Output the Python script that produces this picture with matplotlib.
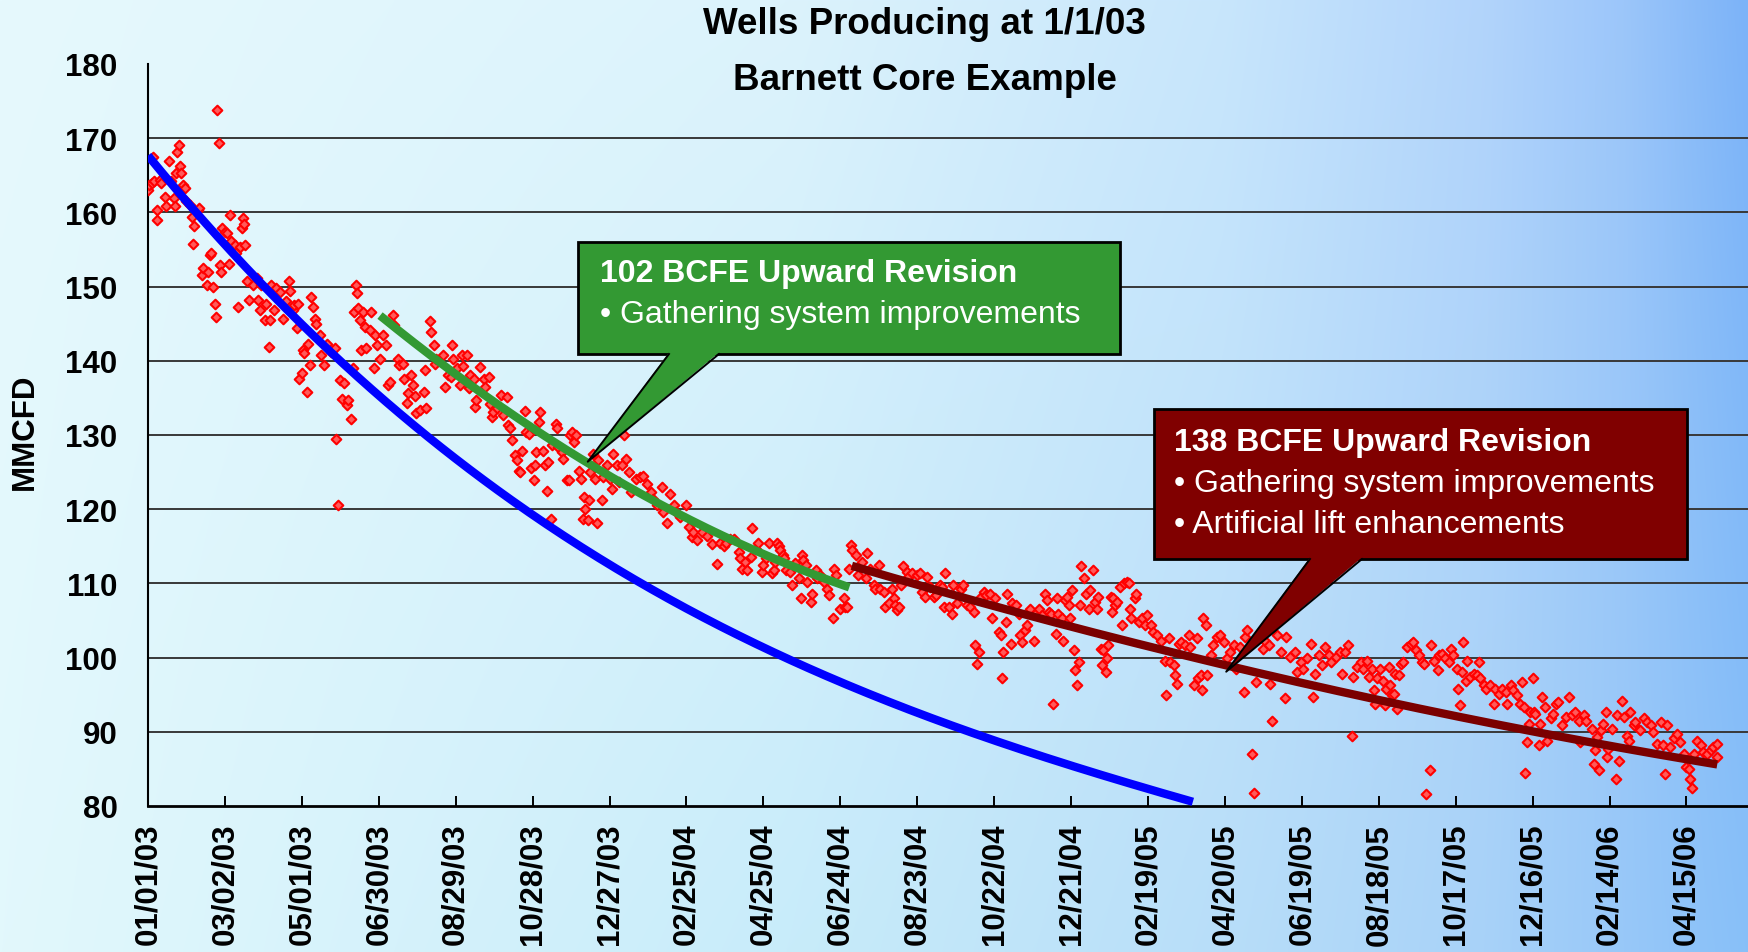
import matplotlib
matplotlib.use("Agg")
import matplotlib.pyplot as plt
import numpy as np
from matplotlib.patches import Polygon, Rectangle
from matplotlib.colors import to_rgb

plt.rcParams['font.family'] = ['Liberation Sans', 'DejaVu Sans']

# ---------------- data (day 0 = 01/01/03, MMCFD) ----------------
obs_2003a = [(0,163.0),(1,163.7),(3,163.9),(4,167.4),(5,164.2),(7,160.3),(7,159.0),(9,164.4),(10,163.9),
    (13,162.1),(14,160.8),(16,166.9),(18,164.2),(20,161.9),(21,160.8),(22,165.3),(23,168.2),(24,169.1),
    (25,166.2),(26,165.3),(27,163.7),(29,163.3),(30,161.5),(33,161.0),(34,159.4),(35,155.8),(36,158.1),
    (39,160.3),(40,160.6),(42,151.6),(43,152.5),(46,150.2),(47,152.0),(48,154.3),(49,154.5),(51,150.0),
    (52,147.7),(53,145.9),(54,173.8),(55,169.3),(56,152.9),(57,152.0),(58,157.9),(60,157.4),(62,157.2),
    (63,153.1),(64,159.6),(65,156.1),(68,155.6),(69,154.5),(70,147.3),(72,155.4),(73,157.9),(74,159.2),
    (75,158.5),(76,155.6),(77,150.7),(79,148.2),(82,150.2),(85,151.1),(86,148.2),(87,146.8),(88,150.2),
    (91,145.5),(92,147.7),(94,141.9),(95,145.5),(96,150.2),(98,146.8),(100,149.8),(103,149.3),(105,145.7),
    (108,148.0),(110,150.8),(111,149.4),(113,146.8),(114,147.5),(116,144.4),(117,147.7),(118,137.6),
    (120,138.3),(121,141.4),(122,141.0),(124,135.8),(125,142.3),(126,139.4),(127,148.6),(129,147.3),
    (130,145.7),(131,145.0),(134,143.5),(135,140.8),(137,139.4),(140,142.3),(143,141.2),(146,141.7),
    (147,129.4),(148,120.6),(150,137.4),(151,134.9),(153,137.0),(155,134.0),(156,134.7),(158,132.2),
    (160,139.0),(161,146.6),(162,150.2),(163,149.1),(164,147.1),(165,145.5),(166,141.4),(168,146.6),
    (169,144.6),(170,141.7),(173,144.1),(174,146.6),(176,139.0),(177,143.5),(179,142.1),(181,140.3),
    (183,143.5),(186,142.1),(187,136.7),(189,137.2),(191,146.2),(192,144.8),(195,140.3),(196,139.4),
    (199,139.6),(200,137.6),(202,134.3),(203,135.6),(205,138.1),(207,136.7),(208,135.2),(209,132.9),
    (212,133.4),(215,135.8),(216,138.8),(217,133.6)]

obs_2003b = [(220,145.3),(221,143.9),(223,142.1),(224,139.6),(225,140.3),(230,140.8),(232,136.5),(234,138.1),
    (236,137.8),(237,142.1),(238,140.3),(241,139.0),(243,136.7),(245,140.8),(246,139.3),(249,140.8),
    (250,136.3),(251,138.1),(254,137.6),(255,133.8),(256,134.7),(259,139.2),(262,137.6),(263,136.5),
    (266,137.8),(267,134.2),(268,132.4),(269,133.1),(272,133.6),(275,135.4),(277,132.7),(280,135.1),
    (281,131.3),(282,130.9),(284,129.3),(286,127.3),(288,126.6),(289,125.2),(290,125.0),(292,127.9),
    (294,133.3),(295,130.4),(297,130.2),(299,125.5),(301,123.9),(302,125.9),(303,127.7),(305,131.8),
    (306,133.1),(308,127.9),(310,125.9),(311,122.5),(312,126.4),(314,118.7),(315,128.6),(318,131.5),
    (319,130.9),(320,128.4),(323,127.7),(324,126.8),(327,123.9),(328,123.9),(329,130.0),(331,130.4),
    (332,129.1),(334,130.0),(336,125.2),(338,124.1),(339,118.7),(340,121.6),(341,120.0),(343,118.5),
    (344,121.2),(345,125.0),(347,127.5),(349,124.1),(350,118.2),(351,126.6),(354,121.2),(355,124.3),
    (358,125.9),(360,124.1),(362,122.7),(363,127.5),(366,125.9),(367,123.6),(370,125.9),(371,130.0),
    (373,126.8),(375,125.0),(377,122.3),(381,124.1),(384,124.3),(386,124.5),(389,123.4),(392,122.3),
    (394,121.4),(397,120.5),(401,123.0),(402,119.6),(405,118.2),(407,122.1),(410,120.5),(412,119.6),
    (415,118.9),(420,120.5),(422,117.6),(424,116.2),(425,116.9),(428,115.8),(432,116.9),(436,116.4),
    (440,115.3),(444,112.6),(446,115.5),(449,115.1),(451,115.5),(454,116.0),(457,116.0),(461,114.2)]

obs_2004 = [(462,113.4),(463,112.0),(466,112.9),(467,111.8),(470,113.6),(471,117.4),(474,114.7),(476,115.4),
    (479,111.6),(480,112.5),(482,113.4),(484,115.4),(487,111.4),(488,111.8),(489,112.9),(491,115.4),
    (492,115.0),(493,114.5),(495,113.8),(496,113.4),(498,111.8),(501,111.6),(502,109.8),(505,112.7),
    (508,110.7),(509,108.0),(510,113.8),(511,113.2),(513,112.5),(514,110.2),(517,107.5),(518,108.6),
    (521,111.8),(522,110.7),(524,111.1),(527,110.2),(530,109.3),(531,108.4),(534,105.3),(535,112.0),
    (537,111.1),(540,106.6),(543,108.0),(544,106.8),(545,106.8),(547,112.0),(548,115.2),(549,114.5),
    (552,113.8),(554,111.1),(557,112.9),(560,110.7),(561,114.1),(563,112.0),(566,109.8),(567,109.3),
    (570,112.5),(571,109.3),(574,108.9),(575,106.8),(578,107.3),(580,109.3),(582,108.0),(583,107.1),
    (584,106.4),(586,106.8),(587,109.8),(589,112.3),(592,111.6),(593,110.9),(596,111.4),(600,111.1),
    (602,111.4),(604,108.9),(606,108.2),(608,110.9),(610,109.5),(613,108.2),(615,108.4),(618,109.8),
    (619,109.5),(621,106.8),(622,111.4),(625,106.8),(627,105.9),(628,109.8),(631,107.3),(634,109.3),
    (636,109.8),(639,107.1),(641,106.8),(644,106.2),(645,101.7),(647,99.2),(648,100.8),(649,108.0),
    (652,108.9),(654,108.4),(657,108.6),(658,105.3),(661,108.0),(664,103.5),(665,103.0),(666,97.2),
    (667,100.8),(669,104.8),(670,108.6),(673,101.9),(674,107.3),(677,107.1),(679,105.9),(680,103.0),
    (682,102.1),(684,103.7),(686,104.4),(688,106.6),(691,102.3),(692,105.9),(695,106.6),(697,105.7),
    (700,108.6),(701,107.7),(703,106.2)]

obs_2005a = [(704,105.9),(706,93.8),(708,103.2),(709,108.0),(710,105.9),(713,105.3),(714,102.3),(715,107.7),
    (717,108.2),(718,107.1),(719,105.3),(721,109.1),(722,101.0),(723,98.3),(725,96.3),(726,99.4),
    (727,107.1),(728,112.3),(730,110.7),(732,108.6),(734,106.6),(735,109.1),(737,111.8),(739,107.5),
    (740,106.6),(741,108.2),(743,101.2),(744,99.0),(745,101.0),(747,98.1),(748,99.9),(749,101.7),
    (751,108.2),(752,106.2),(753,108.0),(754,107.1),(756,107.5),(758,109.5),(760,104.4),(761,110.0),
    (764,110.2),(765,110.0),(766,106.6),(767,105.3),(770,108.0),(771,108.6),(773,104.8),(775,105.3),
    (778,104.4),(779,105.7),(782,104.4),(784,103.5),(787,103.0),(790,102.3),(793,99.6),(794,94.9),
    (796,102.6),(797,99.4),(800,99.0),(801,97.6),(803,96.5),(804,101.9),(806,102.1),(809,101.7),
    (812,103.0),(813,101.4),(816,96.3),(818,102.6),(819,97.2),(821,97.6),(822,95.6),(823,105.3),
    (825,104.4),(826,97.6),(829,100.3),(831,101.7),(834,102.8),(836,103.0),(839,102.1),(842,99.9),
    (844,100.8),(847,101.7),(849,98.5),(852,101.4),(855,95.4),(856,102.8),(857,103.7),(861,87.0),
    (863,81.8),(864,96.7),(870,101.2),(871,102.3),(874,101.7),(875,96.5),(877,91.5),(881,103.0),
    (884,100.8),(887,94.5),(888,102.8),(891,100.1),(895,100.8),(896,98.1),(899,99.4),(901,98.5),
    (904,99.9),(907,101.9),(909,94.7),(910,97.8),(913,100.3),(916,99.0),(918,101.4),(921,100.3),
    (923,99.4),(927,100.1),(930,100.8),(931,97.8),(934,100.8),(936,101.7),(939,89.5),(940,97.4),
    (943,98.7)]

obs_2005b = [(946,99.4),(948,98.5),(951,99.6),(952,97.4),(955,98.5),(956,95.6),(957,93.8),(959,97.2),
    (961,98.5),(963,96.9),(965,93.6),(966,95.8),(968,98.7),(969,96.3),(970,94.9),(972,95.1),(973,97.8),
    (974,93.1),(976,97.6),(977,99.2),(979,99.4),(982,101.4),(985,101.9),(987,102.1),(989,101.0),
    (991,100.3),(994,99.4),(995,99.2),(997,81.6),(1000,84.9),(1001,101.7),(1003,99.6),(1006,98.3),
    (1007,100.3),(1009,100.5),(1012,99.9),(1015,99.4),(1016,101.2),(1018,100.3),(1021,98.4),(1022,95.8),
    (1023,93.6),(1025,98.1),(1026,102.1),(1028,96.9),(1029,99.6),(1031,97.4),(1034,97.8),(1037,97.6),
    (1038,99.4),(1039,97.2),(1042,96.3),(1044,95.8),(1047,96.3),(1050,93.8),(1051,95.8),(1054,95.1),
    (1056,95.8),(1059,95.4),(1060,93.8),(1063,96.3),(1065,95.6),(1068,94.9),(1070,93.8),(1072,96.7),
    (1073,93.3),(1074,84.5),(1076,88.6),(1077,91.1),(1078,92.7),(1080,97.2),(1081,92.7),(1082,92.4),
    (1085,88.2),(1086,91.1),(1087,94.7),(1090,93.3),(1091,88.8),(1094,91.8),(1096,92.4),(1098,93.8),
    (1100,94.0),(1103,90.9),(1106,92.0),(1108,94.7),(1111,92.2),(1113,92.7),(1116,91.5),(1117,88.6),
    (1120,92.2),(1122,91.5),(1126,90.4),(1128,85.7),(1129,87.5),(1130,89.3),(1132,84.8),(1133,90.2),
    (1135,91.1),(1137,92.7),(1138,86.6),(1139,87.7),(1142,90.4),(1145,83.7),(1146,92.2),(1147,86.1),
    (1150,94.2),(1151,92.0),(1154,89.5),(1155,88.8),(1156,92.7),(1159,90.9),(1160,91.3),(1164,90.2),
    (1167,91.8),(1169,91.3),(1172,90.9),(1174,90.0),(1177,88.4),(1180,91.3),(1182,88.2),(1183,84.3),
    (1185,90.9),(1187,87.9),(1190,89.1),(1193,89.7),(1195,88.6),(1198,87.0),(1200,85.2),(1202,85.0),
    (1203,83.6),(1204,82.4),(1206,87.0),(1208,88.8),(1211,88.2),(1213,87.3),(1216,87.0),(1219,87.5),
    (1221,87.9),(1224,88.4),(1224,86.6)]

# original decline forecast (blue), read at sample days
base_days = [0, 30, 60, 90, 120, 150, 180, 210, 240, 270, 300, 360, 420, 480, 540, 600, 660, 720, 780, 815]
base_rate = [167.3, 161.8, 156.0, 150.3, 144.9, 139.4, 135.0, 130.7, 127.0, 123.5, 119.7, 112.0,
             106.3, 101.5, 97.0, 92.5, 88.8, 85.4, 82.3, 80.6]
# first revision (green)
rev1_days = [181, 220, 272, 342, 402, 466, 504, 547]
rev1_rate = [145.7, 141.4, 134.2, 126.4, 119.6, 115.5, 112.7, 109.1]
# second revision (dark red)
rev2_days = [549, 618, 704, 780, 841, 946, 1076, 1224]
rev2_rate = [112.4, 108.8, 105.2, 101.7, 98.3, 95.0, 90.4, 85.5]

tick_days = list(range(0, 1201, 60))
tick_labels = ["01/01/03", "03/02/03", "05/01/03", "06/30/03", "08/29/03", "10/28/03", "12/27/03",
               "02/25/04", "04/25/04", "06/24/04", "08/23/04", "10/22/04", "12/21/04", "02/19/05",
               "04/20/05", "06/19/05", "08/18/05", "10/17/05", "12/16/05", "02/14/06", "04/15/06"]
y_ticks = list(range(80, 181, 10))

# ---------------- figure ----------------
W_PX, H_PX = 1748, 953
fig = plt.figure(figsize=(W_PX / 100, H_PX / 100), dpi=100)

# background gradient
gx = np.linspace(0, 1, 400)
top_nodes_x = [0.0, 0.45, 0.7, 0.85, 0.93, 1.0]
top_cols = ['#e6f9fd', '#dcf3fc', '#c8e6fc', '#b2d4fb', '#9cc6fa', '#7cb3f8']
bot_cols = ['#e2f8fc', '#c8ecfa', '#b8def9', '#a8d2f8', '#98c8f8', '#88c0f8']
def row(cols):
    arr = np.array([to_rgb(c) for c in cols])
    return np.stack([np.interp(gx, top_nodes_x, arr[:, k]) for k in range(3)], axis=1)
top_row = row(top_cols)
bot_row = row(bot_cols)
fy = np.linspace(0, 1, 220)[:, None, None]
img = top_row[None, :, :] * (1 - fy) + bot_row[None, :, :] * fy
bg = fig.add_axes([0, 0, 1, 1], zorder=0)
bg.imshow(img, aspect='auto', extent=[0, 1, 0, 1], origin='upper', interpolation='bilinear')
bg.set_axis_off()

# main axes
ax_left, ax_bottom, ax_top = 148 / W_PX, (H_PX - 807) / H_PX, (H_PX - 65) / H_PX
ax = fig.add_axes([ax_left, ax_bottom, 1 - ax_left, ax_top - ax_bottom], zorder=1)
ax.set_facecolor('none')
ax.set_xlim(0, 1248)
ax.set_ylim(80, 180)

for yv in y_ticks[1:-1]:
    ax.axhline(yv, color='#383838', lw=1.4, zorder=1)

allobs = obs_2003a + obs_2003b + obs_2004 + obs_2005a + obs_2005b
od = [p[0] for p in allobs]
ovals = [p[1] for p in allobs]
ax.scatter(od, ovals, marker='D', s=24, facecolor='#ff5a5a', edgecolor='#ff0000', linewidths=1.5, zorder=3)

def smooth_line(days, rates, deg, color, lw):
    c = np.polyfit(days, rates, deg)
    xx = np.linspace(days[0], days[-1], 300)
    ax.plot(xx, np.polyval(c, xx), color=color, lw=lw, zorder=4, solid_capstyle='butt')

smooth_line(base_days, base_rate, 4, '#0000ff', 6.0)
smooth_line(rev1_days, rev1_rate, 2, '#339933', 6.0)
smooth_line(rev2_days, rev2_rate, 2, '#7b0000', 6.0)

for s in ['top', 'right']:
    ax.spines[s].set_visible(False)
ax.spines['left'].set_linewidth(1.5)
ax.spines['bottom'].set_linewidth(2.0)

ax.set_yticks(y_ticks)
ax.set_yticklabels([str(v) for v in y_ticks], fontsize=22.5, fontweight='bold')
ax.tick_params(axis='y', length=0, pad=22)
ax.set_xticks(tick_days)
ax.set_xticklabels(tick_labels, rotation=90, fontsize=22.5, fontweight='bold')
ax.tick_params(axis='x', direction='in', length=7, width=1.4, pad=12)

# titles and axis label
fig.text(0.529, 0.974, "Wells Producing at 1/1/03", ha='center', va='center', fontsize=26.5, fontweight='bold', zorder=5)
fig.text(0.529, 0.916, "Barnett Core Example", ha='center', va='center', fontsize=26.5, fontweight='bold', zorder=5)
fig.text(24.5 / W_PX, 0.547, "MMCFD", rotation=90, ha='center', va='center', fontsize=22.5, fontweight='bold', zorder=5)

# overlay for callouts (pixel coordinates, y down)
ovl = fig.add_axes([0, 0, 1, 1], zorder=2)
ovl.set_xlim(0, W_PX)
ovl.set_ylim(H_PX, 0)
ovl.set_axis_off()
ovl.set_facecolor('none')

def to_ovl(d, v):
    disp = ax.transData.transform((d, v))
    return ovl.transData.inverted().transform(disp)

def callout(x0, y0, x1, y1, color, base_a, base_b, tip_dv):
    ovl.add_patch(Rectangle((x0, y0), x1 - x0, y1 - y0, facecolor=color, edgecolor='black', lw=2.0, zorder=3))
    tip = to_ovl(*tip_dv)
    ovl.add_patch(Polygon([(base_a, y1 - 1.5), tuple(tip), (base_b, y1 - 1.5)], closed=True,
                          facecolor=color, edgecolor='none', zorder=4))
    ovl.plot([base_a, tip[0], base_b], [y1, tip[1], y1], color='black', lw=1.4, zorder=5)

callout(578, 243, 1120, 355, '#339933', 669, 719, (343, 126.4))
ovl.text(600, 274, "102 BCFE Upward Revision", color='white', fontsize=23, fontweight='bold', va='center', zorder=6)
ovl.text(600, 315.5, "\u2022 Gathering system improvements", color='white', fontsize=23, va='center', zorder=6)

callout(1154, 410, 1687, 560, '#800000', 1310, 1362, (841, 98.1))
ovl.text(1174, 442.6, "138 BCFE Upward Revision", color='white', fontsize=23, fontweight='bold', va='center', zorder=6)
ovl.text(1174, 483.8, "\u2022 Gathering system improvements", color='white', fontsize=23, va='center', zorder=6)
ovl.text(1174, 525, "\u2022 Artificial lift enhancements", color='white', fontsize=23, va='center', zorder=6)

fig.savefig("out.png", dpi=100)
